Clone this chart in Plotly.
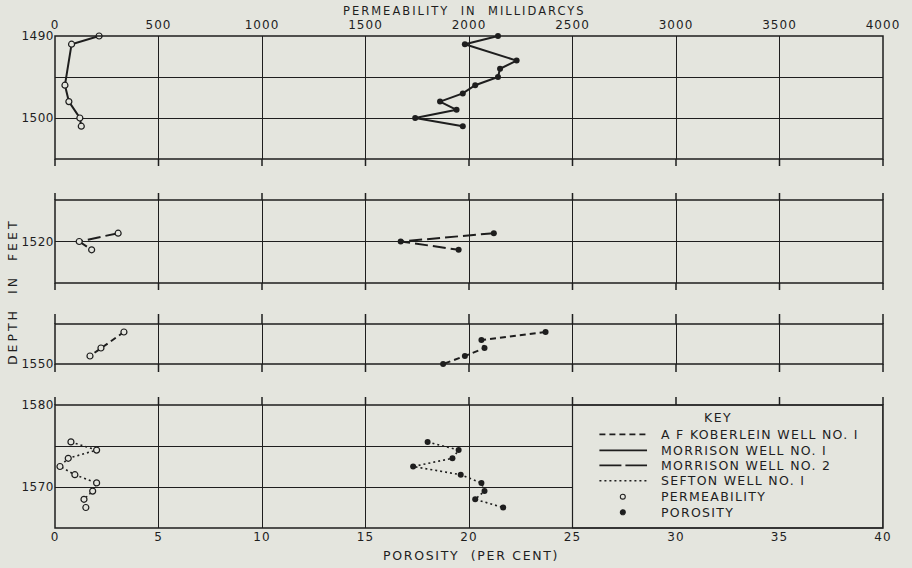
import plotly.graph_objects as go

# ---------------- data ----------------
# Panel 1: Morrison Well No. 1
m1_perm_depth = [1490, 1491, 1496, 1498, 1500, 1501]
m1_perm = [213, 80, 48, 67, 120, 127]
m1_poro_depth = [1490, 1491, 1493, 1494, 1495, 1496, 1497, 1498, 1499, 1500, 1501]
m1_poro = [21.4, 19.8, 22.3, 21.5, 21.4, 20.3, 19.7, 18.6, 19.4, 17.4, 19.7]

# Panel 2: Morrison Well No. 2
m2_perm_depth = [1519, 1520, 1521]
m2_perm = [305, 117, 177]
m2_poro_depth = [1519, 1520, 1521]
m2_poro = [21.2, 16.7, 19.5]

# Panel 3: A F Koberlein Well No. 1
kb_perm_depth = [1546, 1548, 1549]
kb_perm = [333, 222, 169]
kb_poro_depth = [1546, 1547, 1548, 1549, 1550]
kb_poro = [23.7, 20.6, 20.75, 19.8, 18.75]

# Panel 4: Sefton Well No. 1 (axis labelled 1580 at top, 1570 lower)
sf_depth = [1575.5, 1574.5, 1573.5, 1572.5, 1571.5, 1570.5, 1569.5, 1568.5, 1567.5]
sf_perm = [77, 201, 64, 24, 96, 201, 182, 140, 149]
sf_poro = [18.0, 19.5, 19.2, 17.3, 19.6, 20.6, 20.75, 20.3, 21.65]

perm_ticks = [0, 500, 1000, 1500, 2000, 2500, 3000, 3500, 4000]
poro_ticks = [0, 5, 10, 15, 20, 25, 30, 35, 40]

key_labels = ["A F KOBERLEIN WELL NO. I", "MORRISON WELL NO. I",
              "MORRISON WELL NO. 2", "SEFTON WELL NO. I",
              "PERMEABILITY", "POROSITY"]

# ---------------- style ----------------
BG = "#e4e5de"
INK = "#1e1e1e"
FONT = "DejaVu Sans"
DASH_KB = "6px,4px"
DASH_M2 = "13px,5px"
DASH_SF = "2px,3px"

PLOT_H = 492.0  # plot area height in px
PORO_RANGE = [0, 40]


def spaced(s, ls):
    return '<span style="letter-spacing:%spx">%s</span>' % (ls, s)


fig = go.Figure()


def add_pair(pd, pv, qd, qv, ya, dash, width):
    fig.add_trace(go.Scatter(
        x=pv, y=pd, xaxis="x2", yaxis=ya, mode="lines+markers",
        line=dict(color=INK, width=width, dash=dash),
        marker=dict(symbol="circle", size=6, color=BG,
                    line=dict(color=INK, width=1.2)),
        showlegend=False, cliponaxis=False, hoverinfo="skip"))
    fig.add_trace(go.Scatter(
        x=qv, y=qd, xaxis="x", yaxis=ya, mode="lines+markers",
        line=dict(color=INK, width=width, dash=dash),
        marker=dict(symbol="circle", size=6, color=INK),
        showlegend=False, cliponaxis=False, hoverinfo="skip"))


add_pair(m1_perm_depth, m1_perm, m1_poro_depth, m1_poro, "y", "solid", 2)
add_pair(m2_perm_depth, m2_perm, m2_poro_depth, m2_poro, "y2", DASH_M2, 2)
add_pair(kb_perm_depth, kb_perm, kb_poro_depth, kb_poro, "y3", DASH_KB, 2)
add_pair(sf_depth, sf_perm, sf_depth, sf_poro, "y4", DASH_SF, 1.6)

tickfont = dict(family=FONT, size=12, color=INK)


def yax(domain, rng, vals, texts):
    return dict(domain=domain, range=rng, anchor="x", tickmode="array",
                tickvals=vals, ticktext=[spaced(t, 0.5) if t else "" for t in texts],
                showgrid=True, gridcolor=INK, gridwidth=1, zeroline=False,
                showline=False, ticks="", tickfont=tickfont)


domains = {
    "y": [0.75, 1.0],
    "y2": [0.498, 0.6667],
    "y3": [0.3333, 0.4146],
    "y4": [0.0, 0.25],
}

fig.update_layout(
    width=912, height=568,
    margin=dict(l=55, r=27, t=36, b=40),
    paper_bgcolor=BG, plot_bgcolor=BG,
    font=dict(family=FONT, color=INK),
    hovermode=False,
    xaxis=dict(domain=[0, 1], range=PORO_RANGE, anchor="y4", tickmode="array",
               tickvals=poro_ticks, ticktext=[spaced(str(v), 1) for v in poro_ticks],
               showgrid=True, gridcolor=INK, gridwidth=1, zeroline=False,
               showline=False, ticks="", tickfont=tickfont),
    xaxis2=dict(domain=[0, 1], range=[0, 4000], overlaying="x", anchor="y",
                side="top", tickmode="array", tickvals=perm_ticks,
                ticktext=[spaced(str(v), 1) for v in perm_ticks], showgrid=False,
                zeroline=False, showline=False, ticks="", tickfont=tickfont,
                ticklabelstandoff=4),
    yaxis=yax(domains["y"], [1505, 1490], [1490, 1495, 1500, 1505],
              ["1490", "", "1500", ""]),
    yaxis2=yax(domains["y2"], [1525, 1515], [1515, 1520, 1525],
               ["", "1520", ""]),
    yaxis3=yax(domains["y3"], [1550, 1545], [1545, 1550], ["", "1550"]),
    yaxis4=yax(domains["y4"], [1565, 1580], [1565, 1570, 1575, 1580],
               ["", "1570", "", "1580"]),
)

shapes = []
# grid lines poking out beyond panel edges (px above top / below bottom)
ext = {"y": (0, 7), "y2": (7, 7), "y3": (10, 8), "y4": (8, 0)}
for ya, (up, down) in ext.items():
    d0, d1 = domains[ya]
    for xv in poro_ticks:
        xp = (xv - PORO_RANGE[0]) / (PORO_RANGE[1] - PORO_RANGE[0])
        if up:
            shapes.append(dict(type="line", xref="paper", yref="paper", x0=xp, x1=xp,
                               y0=d1, y1=d1 + up / PLOT_H,
                               line=dict(color=INK, width=1.5), layer="above"))
        if down:
            shapes.append(dict(type="line", xref="paper", yref="paper", x0=xp, x1=xp,
                               y0=d0 - down / PLOT_H, y1=d0,
                               line=dict(color=INK, width=1.5), layer="above"))
# key box covering the right part of the bottom panel
shapes.append(dict(type="rect", xref="x", yref="y4 domain", x0=25, x1=40,
                   y0=0, y1=1, fillcolor=BG, line=dict(color=INK, width=1.2),
                   layer="above"))
# panel borders
for ya in ["y", "y2", "y3", "y4"]:
    shapes.append(dict(type="rect", xref="x domain", yref=ya + " domain",
                       x0=0, x1=1, y0=0, y1=1, line=dict(color=INK, width=1.5),
                       fillcolor="rgba(0,0,0,0)", layer="above"))

# key samples
row_y = [0.1904, 0.1579, 0.1274, 0.0961, 0.0636, 0.0319]
line_styles = [(DASH_KB, 1.8), ("solid", 1.8), ("22px,4px", 1.8), (DASH_SF, 1.5)]
for i, (d, w) in enumerate(line_styles):
    shapes.append(dict(type="line", xref="x", yref="paper", x0=26.3, x1=28.6,
                       y0=row_y[i], y1=row_y[i], line=dict(color=INK, width=w, dash=d),
                       layer="above"))
# key marker symbols (open = permeability, filled = porosity)
mx, rx, ry = 27.43, 0.12, 0.005
shapes.append(dict(type="circle", xref="x", yref="paper", x0=mx - rx, x1=mx + rx,
                   y0=row_y[4] - ry, y1=row_y[4] + ry, fillcolor=BG,
                   line=dict(color=INK, width=1.1), layer="above"))
shapes.append(dict(type="circle", xref="x", yref="paper", x0=mx - rx, x1=mx + rx,
                   y0=row_y[5] - ry, y1=row_y[5] + ry, fillcolor=INK,
                   line=dict(color=INK, width=1.1), layer="above"))
fig.update_layout(shapes=shapes)

annotations = []
annotations.append(dict(text=spaced("KEY", 1.5), x=32.05, y=0.2236, xref="x", yref="paper",
                        xanchor="center", yanchor="middle", showarrow=False,
                        font=dict(family=FONT, size=12.5, color=INK)))
for i, lab in enumerate(key_labels):
    annotations.append(dict(text=spaced(lab, 1.3), x=29.2, y=row_y[i], xref="x", yref="paper",
                            xanchor="left", yanchor="middle", showarrow=False,
                            font=dict(family=FONT, size=12.5, color=INK)))
annotations += [
    dict(text=spaced("PERMEABILITY\u00a0\u00a0IN\u00a0\u00a0MILLIDARCYS", 2),
         x=(465 - 55) / 830, y=(528 - 11) / PLOT_H,
         xref="paper", yref="paper", xanchor="center", yanchor="middle",
         showarrow=False, font=dict(family=FONT, size=11.5, color=INK)),
    dict(text=spaced("POROSITY\u00a0\u00a0(PER\u00a0CENT)", 1.7),
         x=(472 - 55) / 830, y=(528 - 555) / PLOT_H,
         xref="paper", yref="paper", xanchor="center", yanchor="middle",
         showarrow=False, font=dict(family=FONT, size=12.5, color=INK)),
    dict(text=spaced("DEPTH\u00a0\u00a0IN\u00a0\u00a0FEET", 3),
         x=(12 - 55) / 830, y=(528 - 292) / PLOT_H,
         xref="paper", yref="paper", xanchor="center", yanchor="middle",
         showarrow=False, textangle=-90,
         font=dict(family=FONT, size=12.5, color=INK)),
]
fig.update_layout(annotations=annotations)

fig.write_html(
    "out.html",
    config={"displayModeBar": False},
    post_script="document.body.style.margin='0';document.body.style.background='%s';" % BG,
)
